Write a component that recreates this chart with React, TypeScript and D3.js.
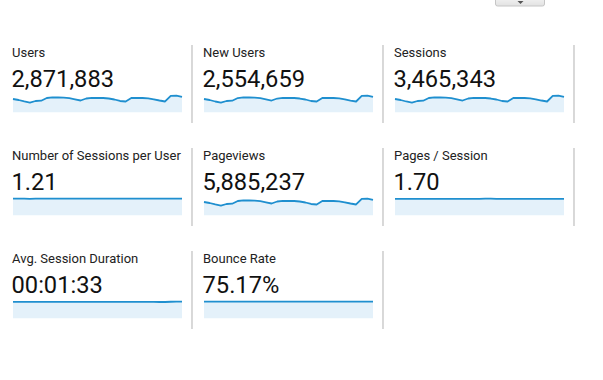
import React from "react";
import * as d3 from "d3";

// Metric titles and totals
const titles = [
  "Users",
  "New Users",
  "Sessions",
  "Number of Sessions per User",
  "Pageviews",
  "Pages / Session",
  "Avg. Session Duration",
  "Bounce Rate",
];
const totals = [
  "2,871,883",
  "2,554,659",
  "3,465,343",
  "1.21",
  "5,885,237",
  "1.70",
  "00:01:33",
  "75.17%",
];

// Daily series (thousands for counts)
const users = [92.8, 85.8, 75.4, 66.9, 78.9, 80.9, 99.7, 104.7, 103.3, 101.9, 98.3, 90.7, 82.3, 96.2, 101.1, 99.7, 99.7, 96.2, 89.3, 78.9, 75.4, 99.7, 101.1, 99.7, 97.6, 90.7, 82.3, 75.4, 115.1, 115.8, 106.8];
const newUsers = [82.6, 76.4, 67.1, 59.5, 70.2, 72.0, 88.7, 93.2, 91.9, 90.7, 87.5, 80.7, 73.2, 85.6, 90.0, 88.7, 88.7, 85.6, 79.5, 70.2, 67.1, 88.7, 90.0, 88.7, 86.9, 80.7, 73.2, 67.1, 102.4, 103.1, 95.1];
const sessions = [112.0, 103.6, 91.0, 80.7, 95.2, 97.6, 120.3, 126.4, 124.7, 123.0, 118.6, 109.5, 99.3, 116.1, 122.0, 120.3, 120.3, 116.1, 107.8, 95.2, 91.0, 120.3, 122.0, 120.3, 117.8, 109.5, 99.3, 91.0, 138.9, 139.8, 128.9];
const sessionsPerUser = [1.21, 1.21, 1.21, 1.20, 1.21, 1.21, 1.21, 1.21, 1.21, 1.21, 1.21, 1.21, 1.21, 1.21, 1.21, 1.21, 1.21, 1.21, 1.21, 1.21, 1.21, 1.21, 1.21, 1.21, 1.21, 1.21, 1.21, 1.21, 1.21, 1.21, 1.21];
const pageviews = [190.2, 175.9, 154.6, 137.1, 161.7, 165.8, 204.4, 214.6, 211.8, 208.9, 201.5, 185.9, 168.7, 197.2, 207.3, 204.4, 204.4, 197.2, 183.1, 161.7, 154.6, 204.4, 207.3, 204.4, 200.1, 185.9, 168.7, 154.6, 236.0, 237.4, 218.9];
const pagesPerSession = [1.70, 1.70, 1.70, 1.70, 1.70, 1.70, 1.70, 1.70, 1.70, 1.70, 1.70, 1.70, 1.70, 1.70, 1.70, 1.70, 1.71, 1.71, 1.70, 1.70, 1.70, 1.70, 1.70, 1.70, 1.70, 1.70, 1.70, 1.70, 1.70, 1.70, 1.70];
const avgDuration = [93.5, 93.4, 93.2, 93.0, 93.2, 93.3, 93.5, 93.6, 93.5, 93.4, 93.3, 93.3, 93.2, 93.4, 93.5, 93.5, 93.4, 93.3, 93.2, 93.1, 93.0, 93.3, 93.4, 93.3, 93.2, 93.0, 92.8, 92.7, 94.2, 94.4, 94.3];
const bounceRate = [75.2, 75.2, 75.2, 75.2, 75.2, 75.2, 75.2, 75.2, 75.2, 75.2, 75.2, 75.2, 75.2, 75.2, 75.2, 75.2, 75.2, 75.2, 75.2, 75.2, 75.2, 75.2, 75.2, 75.2, 75.2, 75.2, 75.2, 75.2, 75.2, 75.2, 75.2];

const seriesList = [users, newUsers, sessions, sessionsPerUser, pageviews, pagesPerSession, avgDuration, bounceRate];

const COL_X = [1, 192, 383];
const ROW_Y = [45, 148, 251];
const COL_W = 191;
const ROW_H = 78;

function Card({ i }: { i: number }) {
  const col = i % 3;
  const row = Math.floor(i / 3);
  const cx = COL_X[col];
  const ry = ROW_Y[row];
  const data = seriesList[i];
  const x = d3.scaleLinear().domain([0, data.length - 1]).range([cx + 12, cx + 181]);
  const y = d3.scaleLinear().domain([0, d3.max(data) as number]).range([ry + 67.3, ry + 50.7]);
  const line = d3.line<number>().x((_, j) => x(j)).y((d) => y(d));
  const area = d3.area<number>().x((_, j) => x(j)).y0(y(0)).y1((d) => y(d));
  return (
    <g>
      <text x={cx + 11} y={ry + 12} fontSize={13} fill="#222">
        {titles[i]}
      </text>
      <text x={cx + 10.5} y={ry + 42.3} fontSize={23.7} fill="#111">
        {totals[i]}
      </text>
      <path d={area(data) as string} fill="#e4f1fa" />
      <path d={line(data) as string} fill="none" stroke="#1f8fcf" strokeWidth={1.8} strokeLinejoin="round" />
      <line x1={cx + COL_W} x2={cx + COL_W} y1={ry} y2={ry + ROW_H} stroke="#c4c4c4" strokeWidth={1.3} />
    </g>
  );
}

export default function App() {
  return (
    <svg
      width={603}
      height={380}
      style={{ position: "absolute", left: 0, top: 0, background: "#fff" }}
      fontFamily="Roboto, 'Noto Sans', sans-serif"
    >
      <defs>
        <linearGradient id="btn" x1="0" y1="0" x2="0" y2="1">
          <stop offset="0" stopColor="#f4f4f4" />
          <stop offset="1" stopColor="#e2e2e2" />
        </linearGradient>
      </defs>
      <rect x={495.5} y={-3} width={49} height={9} rx={2} fill="url(#btn)" stroke="#c6c6c6" />
      <path d="M517.5,1 L523.5,1 L520.5,4 Z" fill="#555" />
      {titles.map((_, i) => (
        <Card key={i} i={i} />
      ))}
    </svg>
  );
}
